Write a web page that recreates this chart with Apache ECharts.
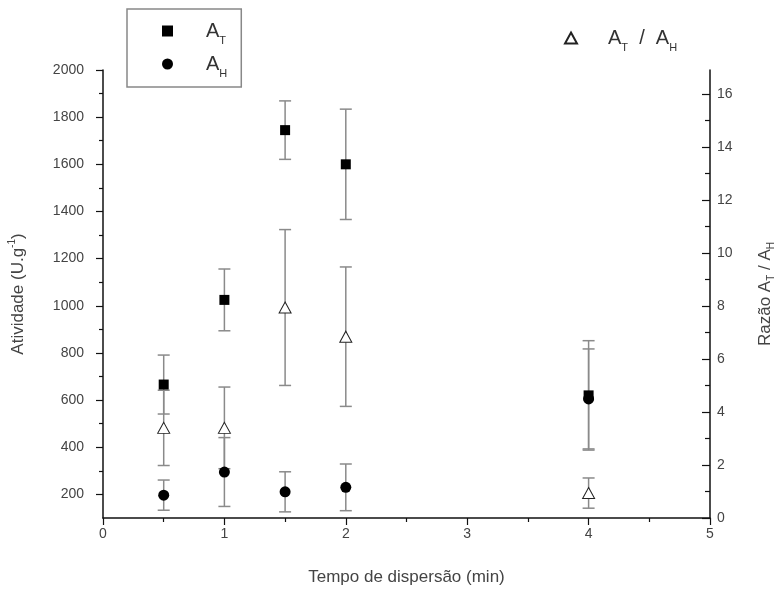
<!DOCTYPE html>
<html>
<head>
<meta charset="utf-8">
<script src="https://cdn.jsdelivr.net/npm/echarts@6/dist/echarts.min.js"></script>
<style>
  html, body { margin: 0; padding: 0; background: #fff; }
  #chart { width: 781px; height: 589px; }
</style>
</head>
<body>
<div id="chart"></div>
<script>
  // tempo de dispersão (min)
  var tempo = [0.5, 1, 1.5, 2, 4]
  // atividade A_T e A_H (U.g-1) com desvios
  var aT = [666, 1025, 1745, 1600, 620]
  var aTErr = [125, 131, 124, 234, 232]
  var aH = [197, 295, 211, 230, 605]
  var aHErr = [64, 146, 85, 99, 212]
  // razão A_T / A_H
  var razao = [3.4, 3.4, 7.94, 6.84, 0.94]
  var razaoErr = [1.42, 1.54, 2.94, 2.63, 0.57]
  // ticks
  var leftMajor = [200, 400, 600, 800, 1000, 1200, 1400, 1600, 1800, 2000]
  var leftMinor = [300, 500, 700, 900, 1100, 1300, 1500, 1700, 1900]
  var rightMajor = [0, 2, 4, 6, 8, 10, 12, 14, 16]
  var rightMinor = [1, 3, 5, 7, 9, 11, 13, 15]

  var font = 'Liberation Sans, Arial, sans-serif'
  var txt = '#444'

  function pts (ys) {
    return tempo.map(function (t, i) { return [t, ys[i]] })
  }
  function bars (ys, es) {
    return tempo.map(function (t, i) { return [t, ys[i] - es[i], ys[i] + es[i]] })
  }
  function errRender (params, api) {
    var x = api.value(0)
    var lo = api.coord([x, api.value(1)])
    var hi = api.coord([x, api.value(2)])
    var w = 6
    var st = { stroke: '#8a8a8a', lineWidth: 1.5 }
    return {
      type: 'group',
      children: [
        { type: 'line', shape: { x1: lo[0], y1: lo[1], x2: hi[0], y2: hi[1] }, style: st },
        { type: 'line', shape: { x1: hi[0] - w, y1: hi[1], x2: hi[0] + w, y2: hi[1] }, style: st },
        { type: 'line', shape: { x1: lo[0] - w, y1: lo[1], x2: lo[0] + w, y2: lo[1] }, style: st },
      ],
    }
  }

  var rich = {
    pa: { fontSize: 20, fontFamily: font, color: '#333', lineHeight: 30, padding: [0, 0, 0, 28] },
    pb: { fontSize: 20, fontFamily: font, color: '#333', lineHeight: 30, padding: [0, 0, 0, 26] },
    a: { fontSize: 20, fontFamily: font, color: '#333', lineHeight: 30 },
    s: { fontSize: 11, fontFamily: font, color: '#333', lineHeight: 12, verticalAlign: 'bottom' },
  }
  var nameRich = {
    n: { fontSize: 17, fontFamily: font, color: txt, lineHeight: 22 },
    s: { fontSize: 10, fontFamily: font, color: txt, lineHeight: 11, verticalAlign: 'bottom' },
    u: { fontSize: 10, fontFamily: font, color: txt, lineHeight: 11, verticalAlign: 'top' },
  }
  var axisLine = { show: true, lineStyle: { color: '#111', width: 1.5 } }
  var tickStyle = { color: '#111', width: 1.2 }
  var plain = function (v) { return String(v) }

  var chart = echarts.init(document.getElementById('chart'))
  var option = {
    animation: false,
    backgroundColor: '#fff',
    textStyle: { fontFamily: font },
    grid: { left: 103, right: 71, top: 70, bottom: 71, outerBoundsMode: 'none' },
    legend: [
      {
        data: ['AT', 'AH'],
        orient: 'vertical',
        left: 127,
        top: 9,
        itemWidth: 11,
        itemHeight: 11,
        itemGap: 8,
        padding: [12, 14, 8, 35],
        borderColor: '#888',
        borderWidth: 1.5,
        formatter: function (n) { return n === 'AT' ? '{pa|A}{s|T}' : '{pa|A}{s|H}' },
        textStyle: { rich: rich },
      },
      {
        data: ['AT/AH'],
        left: 564,
        top: 28,
        padding: 0,
        itemWidth: 12,
        itemHeight: 11,
        formatter: function () { return '{pb|A}{s|T}{a|  /  A}{s|H}' },
        textStyle: { rich: rich },
      },
    ],
    xAxis: {
      type: 'value',
      min: 0,
      max: 5,
      interval: 1,
      name: 'Tempo de dispersão (min)',
      nameLocation: 'middle',
      nameGap: 51,
      nameTextStyle: { fontSize: 17, color: txt, fontFamily: font },
      axisLine: axisLine,
      axisTick: { show: true, length: 7, lineStyle: tickStyle },
      minorTick: { show: true, splitNumber: 2, length: 4, lineStyle: tickStyle },
      axisLabel: { fontSize: 14, color: txt, margin: 9 },
      splitLine: { show: false },
    },
    yAxis: [
      {
        type: 'value',
        position: 'left',
        min: 100,
        max: 2000,
        name: '{n|Atividade (U.g}{u|-1}{n|)}',
        nameLocation: 'middle',
        nameRotate: 90,
        nameGap: 74,
        nameTextStyle: { rich: nameRich },
        axisLine: axisLine,
        axisTick: { show: true, length: 7, customValues: leftMajor, lineStyle: tickStyle },
        axisLabel: { fontSize: 14, color: txt, margin: 19, customValues: leftMajor, formatter: plain },
        splitLine: { show: false },
      },
      {
        type: 'value',
        position: 'right',
        min: 0,
        max: 16.9,
        name: '{n|Razão A}{s|T}{n| / A}{s|H}',
        nameLocation: 'middle',
        nameRotate: 90,
        nameGap: 44,
        nameTextStyle: { rich: nameRich },
        axisLine: axisLine,
        axisTick: { show: true, inside: true, length: 8, customValues: rightMajor, lineStyle: tickStyle },
        axisLabel: { fontSize: 14, color: txt, margin: 7, customValues: rightMajor, formatter: plain },
        splitLine: { show: false },
      },
      {
        type: 'value',
        position: 'left',
        min: 100,
        max: 2000,
        axisLine: { show: false },
        axisTick: { show: true, length: 4, customValues: leftMinor, lineStyle: tickStyle },
        axisLabel: { show: false },
        splitLine: { show: false },
      },
      {
        type: 'value',
        position: 'right',
        min: 0,
        max: 16.9,
        axisLine: { show: false },
        axisTick: { show: true, inside: true, length: 5, customValues: rightMinor, lineStyle: tickStyle },
        axisLabel: { show: false },
        splitLine: { show: false },
      },
    ],
    series: [
      { type: 'custom', yAxisIndex: 0, renderItem: errRender, data: bars(aT, aTErr), encode: { x: 0, y: [1, 2] }, z: 1 },
      { type: 'custom', yAxisIndex: 0, renderItem: errRender, data: bars(aH, aHErr), encode: { x: 0, y: [1, 2] }, z: 1 },
      { type: 'custom', yAxisIndex: 1, renderItem: errRender, data: bars(razao, razaoErr), encode: { x: 0, y: [1, 2] }, z: 1 },
      {
        name: 'AT', type: 'scatter', yAxisIndex: 0, symbol: 'rect', symbolSize: 10,
        itemStyle: { color: '#000', opacity: 1 }, data: pts(aT), z: 3,
      },
      {
        name: 'AH', type: 'scatter', yAxisIndex: 0, symbol: 'circle', symbolSize: 11,
        itemStyle: { color: '#000', opacity: 1 }, data: pts(aH), z: 3,
      },
      {
        name: 'AT/AH', type: 'scatter', yAxisIndex: 1, symbol: 'triangle', symbolSize: [12, 11],
        itemStyle: { color: '#fff', borderColor: '#222', borderWidth: 1, opacity: 1 }, data: pts(razao), z: 3,
      },
    ],
  }
  chart.setOption(option)
</script>
</body>
</html>
